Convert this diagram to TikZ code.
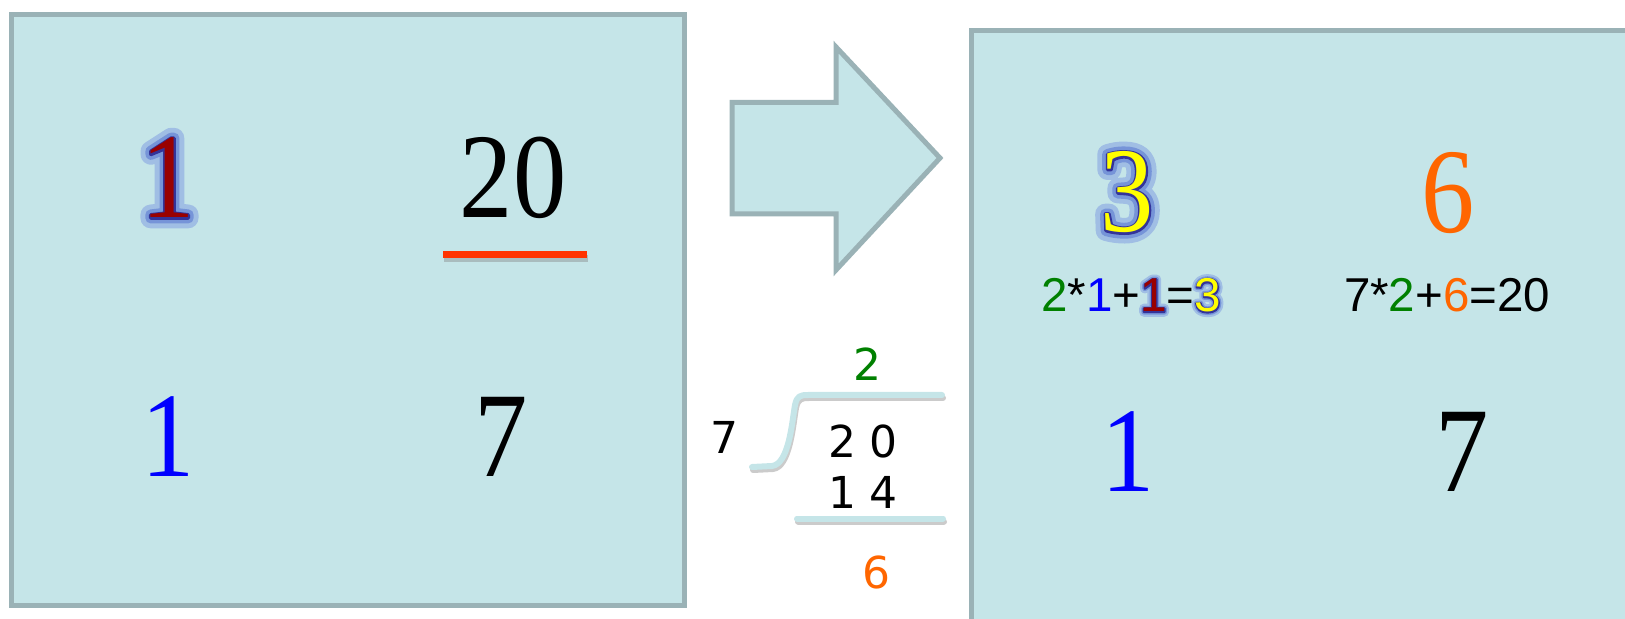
\documentclass[tikz,border=0pt]{standalone}
\usepackage{fontspec}
\usepackage{xcolor}
\usepackage{tikz}
\usetikzlibrary{positioning}

\setmainfont{Liberation Serif}[FakeStretch=0.88]
\newfontfamily\arialfont{Liberation Sans}
\newfontfamily\divfont{DejaVu Sans}

\definecolor{panelfill}{RGB}{197,229,232}
\definecolor{panelline}{RGB}{154,178,182}
\definecolor{barred}{RGB}{255,51,0}
\definecolor{remorange}{RGB}{255,102,0}
\definecolor{quotgreen}{RGB}{0,128,0}
\definecolor{edgeblue}{RGB}{51,51,153}
\definecolor{glowpale}{RGB}{160,190,228}
\definecolor{glowmid}{RGB}{118,148,216}
\definecolor{carryred}{RGB}{153,0,0}
\definecolor{sumyellow}{RGB}{255,255,0}

% glowing digit: #1 glow, #2 inner glow, #3 edge (FakeBold amounts),
% #4 fill colour, #5 text
\newcommand\glowdigit[5]{%
  \leavevmode
  \rlap{\addfontfeature{FakeBold=#1}\textcolor{glowpale}{#5}}%
  \rlap{\addfontfeature{FakeBold=#2}\textcolor{glowmid}{#5}}%
  \rlap{\addfontfeature{FakeBold=#3}\textcolor{edgeblue}{#5}}%
  \textcolor{#4}{#5}}

\begin{document}
\begin{tikzpicture}[
    x=0.5pt,
    y=-0.5pt,
    line join=round,
    panel/.style={draw=panelline,fill=panelfill,line width=2.5pt,line join=miter},
    bignum/.style={
        anchor=base,
        inner sep=0pt,
        font=\fontsize{60.5}{60}\selectfont
    },
    eqtext/.style={
        anchor=base,
        inner sep=0pt,
        font=\arialfont\fontsize{23.75}{24}\selectfont
    },
    divnum/.style={
        anchor=base,
        inner sep=0pt,
        font=\divfont\fontsize{22}{22}\selectfont
    },
    divline/.style={draw=panelfill,line width=3pt,line cap=round},
    divshadow/.style={draw=black!45,line width=3pt,line cap=round,opacity=0.45}
]

\useasboundingbox (0,0) rectangle (1625,619);

% ---------------------------------------------------------
% Left panel: state before the step
% ---------------------------------------------------------

\draw[panel] (11.5,14.5) rectangle (684.5,605.5);

\node[bignum] (carry) at (168,218)
    {\glowdigit{17}{9}{3}{carryred}{1}};
\node[bignum] (dividend) at (513,218) {20};
\node[bignum,text=blue] (lowone) at (168,476) {1};
\node[bignum] (divisor) at (501,476) {7};

% bar under the dividend
\coordinate (barL) at (443,254.5);
\coordinate (barR) at (587,254.5);
\draw[line width=3.5pt,draw=black!50,opacity=0.4]
    ([shift={(1,4)}]barL) -- ([shift={(1,4)}]barR);
\draw[line width=3.5pt,draw=barred] (barL) -- (barR);

% ---------------------------------------------------------
% Block arrow
% ---------------------------------------------------------

\draw[panel]
    (732,102.5) -- (836,102.5) -- (836,47) -- (940,158)
    -- (836,270) -- (836,214) -- (732,214) -- cycle;

% ---------------------------------------------------------
% Long division 20 : 7
% ---------------------------------------------------------

\node[divnum,text=quotgreen] (quot) at (867.5,381) {2};
\node[divnum] (dvsr) at (724,453) {7};
\node[divnum] (dvnd) at (863,458) {2 0};
\node[divnum] (prod) at (863,508) {1 4};
\node[divnum,text=remorange] (rem) at (876.5,588) {6};

\draw[divshadow]
    (753,470) -- (773,469)
    .. controls (790,467) and (793,425) .. (796,408)
    .. controls (798,399) and (801,398) .. (809,398) -- (943,398);
\draw[divline]
    (752,467) -- (772,466)
    .. controls (789,464) and (792,422) .. (795,405)
    .. controls (797,396) and (800,395) .. (808,395) -- (942,395);

\draw[divshadow] (798,521.5) -- (944,521.5);
\draw[divline] (797,518.5) -- (943,518.5);

% ---------------------------------------------------------
% Right panel: state after the step
% ---------------------------------------------------------

\draw[panel] (971,31) rectangle (1700,700);

\node[bignum] (newcarry) at (1127,232)
    {\glowdigit{17}{9}{3}{sumyellow}{3}};
\node[bignum,text=remorange] (newrem) at (1448,233) {6};

\node[eqtext] (carryeq) at (1131,312)
{%
\textcolor{quotgreen}{2}*\textcolor{blue}{1}+%
\glowdigit{20}{11}{5}{carryred}{1}=%
\glowdigit{20}{11}{5}{sumyellow}{3}%
};
\node[eqtext] (remeq) at (1447,312)
    {7*\textcolor{quotgreen}{2}+\textcolor{remorange}{6}=20};

\node[bignum,text=blue] (newone) at (1128,491) {1};
\node[bignum] (newseven) at (1462,491) {7};

\end{tikzpicture}
\end{document}
